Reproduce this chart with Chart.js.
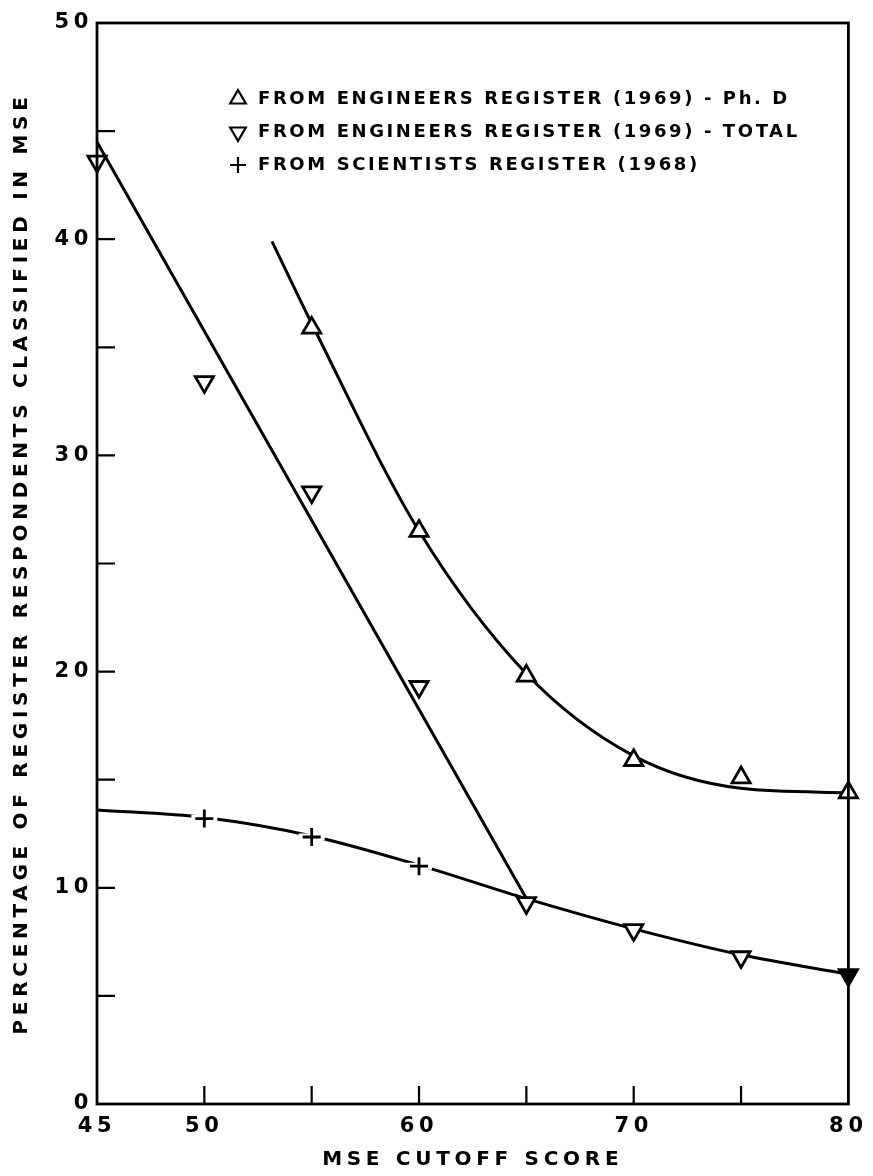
<!DOCTYPE html>
<html>
<head>
<meta charset="utf-8">
<style>
  html, body { margin: 0; padding: 0; background: #fff; }
  #wrap { width: 873px; height: 1176px; position: relative; }
</style>
<script src="https://cdn.jsdelivr.net/npm/chart.js@4.4.0/dist/chart.umd.min.js"></script>
</head>
<body>
<div id="wrap"><canvas id="mseChart"></canvas></div>
<script>
// values
const cutoffScores = [45, 50, 55, 60, 65, 70, 75, 80];

// engineers register (1969) - Ph.D, triangles
const phdScores = [55, 60, 65, 70, 75, 80];
const phdValues = [35.9, 26.5, 19.8, 15.9, 15.1, 14.4];
// drawn curve through them
const phdCurveX = [53.15, 55, 60, 65, 70, 75, 80];
const phdCurveY = [39.9, 36.1, 26.5, 19.9, 16.1, 14.6, 14.4];

// engineers register (1969) - total, inverted triangles
const totalValues = [43.6, 33.4, 28.3, 19.3, 9.3, 8.05, 6.8, 5.97];
// straight fitted line
const totalLineX = [45, 65];
const totalLineY = [44.5, 9.5];

// scientists register (1968), plus signs
const sciScores = [50, 55, 60];
const sciValues = [13.2, 12.35, 11.0];
// lower curve shared by scientists + engineers total
const lowerCurveX = [45, 50, 55, 60, 65, 70, 75, 80];
const lowerCurveY = [13.6, 13.25, 12.4, 11.05, 9.5, 8.1, 6.9, 6.0];

const legendLabels = [
    'FROM ENGINEERS REGISTER (1969) - Ph. D',
    'FROM ENGINEERS REGISTER (1969) - TOTAL',
    'FROM SCIENTISTS REGISTER (1968)'
];

const FONT = "'DejaVu Sans', sans-serif";

function pts(xs, ys) {
    return xs.map((x, i) => ({ x: x, y: ys[i] }));
}

// box, inward ticks, letter spacing, legend
const paperPlugin = {
    id: 'paper',
    beforeDraw(chart) {
        chart.ctx.letterSpacing = '4.7px';
    },
    afterDraw(chart) {
        const ctx = chart.ctx;
        const a = chart.chartArea;
        const xs = chart.scales.x, ys = chart.scales.y;
        ctx.save();
        ctx.strokeStyle = '#000';
        ctx.lineWidth = 2.8;
        ctx.strokeRect(a.left, a.top, a.right - a.left, a.bottom - a.top);
        ctx.lineWidth = 2.2;
        ctx.beginPath();
        xs.ticks.forEach(t => {
            const px = xs.getPixelForValue(t.value);
            if (px <= a.left + 1 || px >= a.right - 1) return;
            ctx.moveTo(px, a.bottom);
            ctx.lineTo(px, a.bottom - 18);
        });
        ys.ticks.forEach(t => {
            const py = ys.getPixelForValue(t.value);
            if (py <= a.top + 1 || py >= a.bottom - 1) return;
            ctx.moveTo(a.left, py);
            ctx.lineTo(a.left + 18, py);
        });
        ctx.stroke();

        // legend
        const styles = [
            { pointStyle: 'triangle', rotation: 0 },
            { pointStyle: 'triangle', rotation: 180 },
            { pointStyle: 'cross', rotation: 0 }
        ];
        ctx.font = 'bold 18px ' + FONT;
        ctx.letterSpacing = '2.6px';
        ctx.textBaseline = 'middle';
        legendLabels.forEach((txt, i) => {
            const y = 99 + i * 33;
            ctx.fillStyle = '#fff';
            ctx.strokeStyle = '#000';
            Chart.helpers.drawPoint(ctx, {
                pointStyle: styles[i].pointStyle,
                rotation: styles[i].rotation,
                radius: i === 2 ? 8 : 9,
                borderWidth: 2.8
            }, 238, y);
            ctx.fillStyle = '#000';
            ctx.fillText(txt, 258, y);
        });
        ctx.restore();
    }
};

const ctx = document.getElementById('mseChart').getContext('2d');
const lineStyle = {
    type: 'line',
    borderColor: '#000',
    borderWidth: 3,
    pointRadius: 0,
    fill: false,
    cubicInterpolationMode: 'monotone',
    clip: false,
    order: 10
};

const mseChart = new Chart(ctx, {
    type: 'line',
    data: {
        datasets: [
            Object.assign({ label: 'phd curve', data: pts(phdCurveX, phdCurveY) }, lineStyle),
            Object.assign({ label: 'total line', data: pts(totalLineX, totalLineY) }, lineStyle),
            Object.assign({ label: 'lower curve', data: pts(lowerCurveX, lowerCurveY) }, lineStyle),
            {
                label: legendLabels[0],
                data: pts(phdScores, phdValues),
                showLine: false,
                pointStyle: 'triangle',
                pointRadius: 10.5,
                pointBorderWidth: 2.8,
                pointBorderColor: '#000',
                pointBackgroundColor: '#fff',
                clip: false,
                order: 1
            },
            {
                label: legendLabels[1],
                data: pts(cutoffScores, totalValues),
                showLine: false,
                pointStyle: 'triangle',
                pointRotation: 180,
                pointRadius: 10.5,
                pointBorderWidth: 2.8,
                pointBorderColor: '#000',
                pointBackgroundColor: ['#fff', '#fff', '#fff', '#fff', '#fff', '#fff', '#fff', '#000'],
                clip: false,
                order: 1
            },
            {
                // white halo that breaks the curve at each plus sign
                label: 'halo',
                data: pts(sciScores, sciValues),
                showLine: false,
                pointStyle: 'cross',
                pointRadius: 13,
                pointBorderWidth: 7,
                pointBorderColor: '#fff',
                clip: false,
                order: 5
            },
            {
                label: legendLabels[2],
                data: pts(sciScores, sciValues),
                showLine: false,
                pointStyle: 'cross',
                pointRadius: 9,
                pointBorderWidth: 2.8,
                pointBorderColor: '#000',
                clip: false,
                order: 1
            }
        ]
    },
    options: {
        responsive: true,
        maintainAspectRatio: false,
        animation: false,
        layout: { padding: { left: 0, right: 20, top: 23, bottom: 0 } },
        plugins: {
            legend: { display: false },
            tooltip: { enabled: false }
        },
        scales: {
            x: {
                type: 'linear',
                min: 45,
                max: 80,
                afterFit(scale) { scale.height = 72; },
                grid: { display: false, drawTicks: false },
                border: { display: false },
                ticks: {
                    stepSize: 5,
                    padding: 10,
                    color: '#000',
                    font: { family: FONT, size: 21, weight: 'bold' },
                    callback: v => [45, 50, 60, 70, 80].includes(v) ? v : ''
                },
                title: {
                    display: true,
                    text: 'MSE CUTOFF SCORE',
                    color: '#000',
                    font: { family: FONT, size: 20, weight: 'bold' },
                    padding: { top: 0, bottom: 4 }
                }
            },
            y: {
                type: 'linear',
                min: 0,
                max: 50,
                afterFit(scale) { scale.width = 97; },
                grid: { display: false, drawTicks: false },
                border: { display: false },
                ticks: {
                    stepSize: 5,
                    padding: 4,
                    color: '#000',
                    font: { family: FONT, size: 21, weight: 'bold' },
                    callback: v => v % 10 === 0 ? v : ''
                },
                title: {
                    display: true,
                    text: 'PERCENTAGE OF REGISTER RESPONDENTS CLASSIFIED IN MSE',
                    color: '#000',
                    font: { family: FONT, size: 20, weight: 'bold' },
                    padding: { top: 10, bottom: 0 }
                }
            }
        }
    },
    plugins: [paperPlugin]
});
</script>
</body>
</html>
